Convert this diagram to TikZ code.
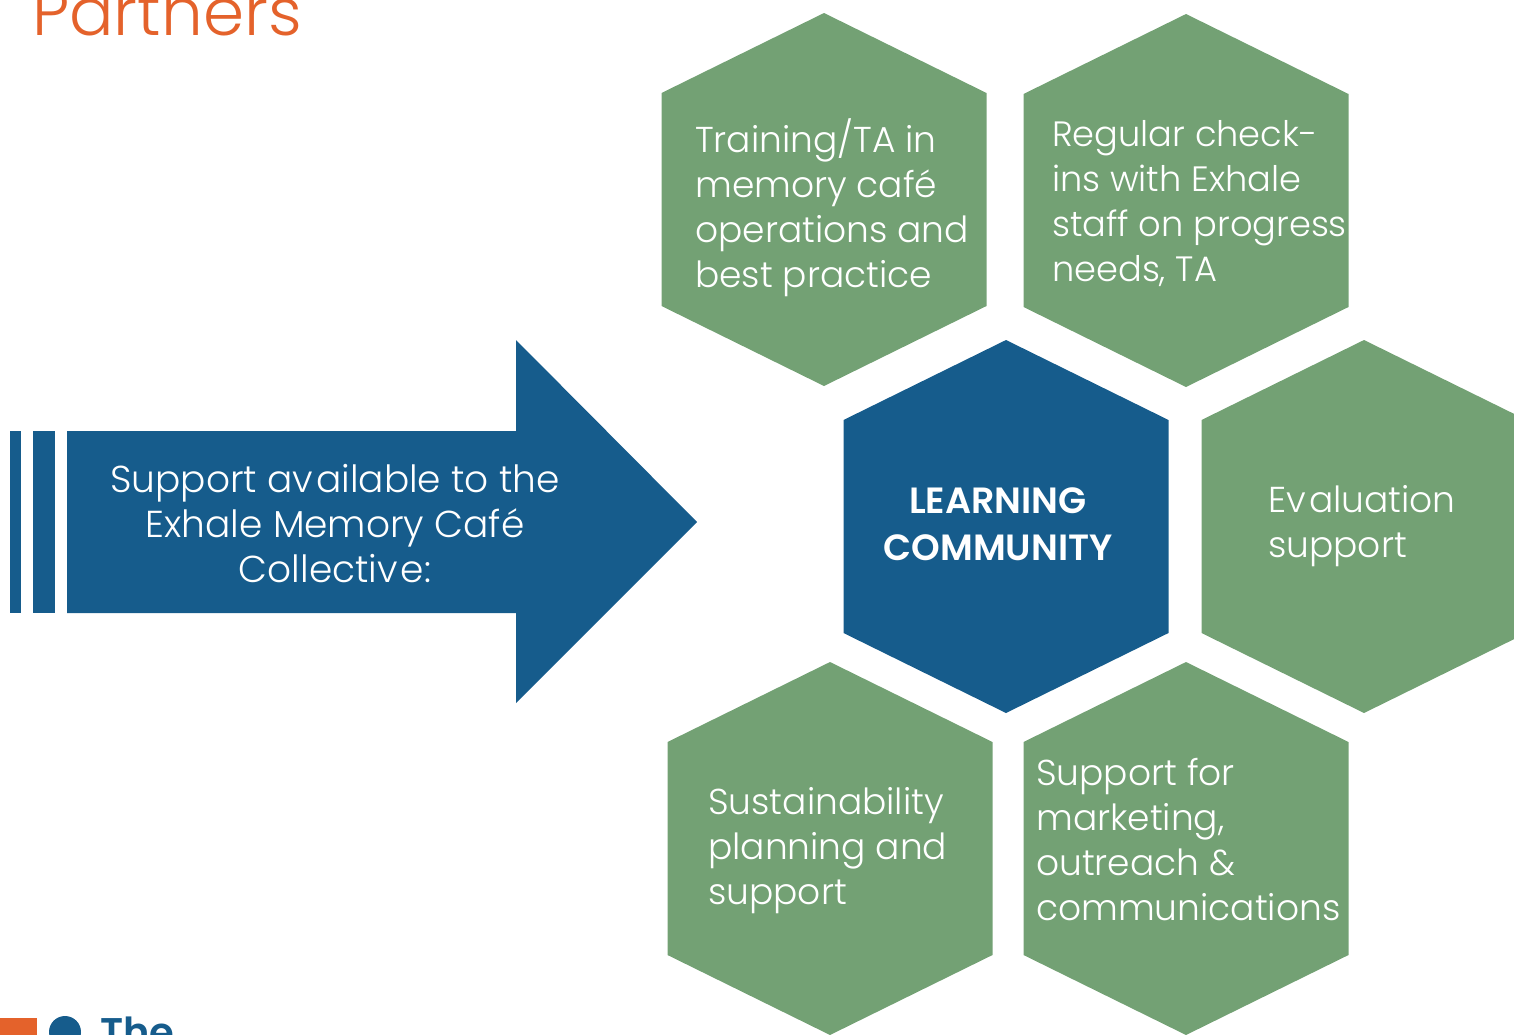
\documentclass[tikz,border=0pt]{standalone}
\usepackage{fontspec}
\setmainfont{Poppins}
\newfontfamily\lightf{Poppins Light}
\newfontfamily\boldf{Poppins SemiBold}
\definecolor{hexgreen}{RGB}{115,161,116}
\definecolor{hexblue}{RGB}{22,92,140}
\definecolor{titleorange}{RGB}{228,98,43}
\tikzset{
  hextext/.style={anchor=base west, inner sep=0pt, align=left, text=white,
    font=\lightf\fontsize{36}{45}\selectfont},
  arrowtext/.style={anchor=base, inner sep=0pt, align=center, text=white,
    font=\lightf\fontsize{37.5}{45}\selectfont},
  centertext/.style={anchor=base, inner sep=0pt, align=center, text=white,
    font=\boldf\fontsize{36.5}{47}\selectfont},
}
\newcommand\drawhex[4]{%
  \coordinate (#1) at (#2,#3);
  \fill[#4, shift={(#2,#3)}] (0,-186.5) -- (162.5,-106.5) -- (162.5,106.5)
    -- (0,186.5) -- (-162.5,106.5) -- (-162.5,-106.5) -- cycle;}
\begin{document}
\begin{tikzpicture}[x=1pt,y=-1pt]
\useasboundingbox (0,0) rectangle (1514,1034);
\clip (0,0) rectangle (1514,1034);
% title
\node[anchor=base west, inner sep=0pt, text=titleorange,
  font=\lightf\fontsize{66}{66}\selectfont] (title) at (32,35) {Partners};
% arrow
\fill[hexblue] (10,431) rectangle (21,613);
\fill[hexblue] (33,431) rectangle (55,613);
\fill[hexblue] (67,431) -- (516,431) -- (516,340) -- (697,522) -- (516,703)
  -- (516,613) -- (67,613) -- cycle;
\node[arrowtext] (arrowlbl) at (335,582)
  {Support av\kern3pt ailable to the\\Exhale Memory Café\\Collectiv\kern3pt e:};
% hexagons
\drawhex{h1}{824}{199.5}{hexgreen}
\drawhex{h2}{1186}{200.5}{hexgreen}
\drawhex{hc}{1006}{526.5}{hexblue}
\drawhex{h3}{1364}{526.5}{hexgreen}
\drawhex{h4}{830}{848.5}{hexgreen}
\drawhex{h5}{1186}{848.5}{hexgreen}
\node[hextext] (t1) at (695,287)
  {Training/TA in\\memory café\\operations and\\best practice};
\node[hextext, font=\lightf\fontsize{35.2}{45}\selectfont] (t2) at (1052,281)
  {Regular check-\\ins with Exhale\\staff on progress\\needs, TA};
\node[centertext] (tc) at (998,560) {LEARNING\\COMMUNITY};
\node[hextext] (t3) at (1268,557) {Ev\kern3pt aluation\\support};
\node[hextext] (t4) at (708,904)
  {Sustainability\\planning and\\support};
\node[hextext] (t5) at (1036,920)
  {Support for\\marketing,\\outreach \&\\communications};
% logo
\fill[titleorange] (0,1018) rectangle (37,1040);
\fill[hexblue] (65,1032) circle (16);
\node[anchor=base west, inner sep=0pt, text=hexblue,
  font=\boldf\fontsize{40}{40}\selectfont] (logo) at (100,1046) {The};
\end{tikzpicture}
\end{document}
